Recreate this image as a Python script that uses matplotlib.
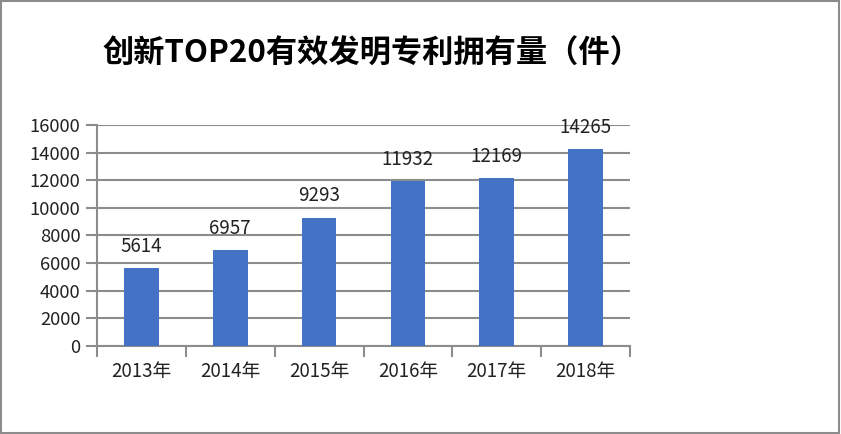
import matplotlib
matplotlib.use("Agg")
import matplotlib.pyplot as plt
from matplotlib.patches import Rectangle
import numpy as np

plt.rcParams['font.family'] = ['Noto Sans CJK SC', 'DejaVu Sans']

categories = ["2013年", "2014年", "2015年", "2016年", "2017年", "2018年"]
values = [5614, 6957, 9293, 11932, 12169, 14265]
yticks = [0, 2000, 4000, 6000, 8000, 10000, 12000, 14000, 16000]
title = "创新TOP20有效发明专利拥有量（件）"

fig = plt.figure(figsize=(8.41, 4.34), dpi=100)
ax = fig.add_axes([97/841, 1-345.7/434, (630-97)/841, (345.7-125)/434])

x = np.arange(len(categories))
bars = ax.bar(x, values, width=0.39, color="#4472C4", zorder=3)
for xi, v in zip(x, values):
    ax.annotate(str(v), (xi, v), xytext=(0, 8), textcoords="offset points",
                ha="center", va="bottom", fontsize=13.5, color="#222222")

ax.set_xlim(-0.5, len(categories) - 0.5)
ax.set_ylim(0, 16000)
ax.set_yticks(yticks)
ax.set_yticklabels([str(t) for t in yticks], fontsize=13.3, color="#222222")
ax.set_xticks(x)
ax.set_xticklabels(categories, fontsize=13.5, color="#222222")
ax.set_xticks(np.arange(-0.5, len(categories)), minor=True)
ax.tick_params(axis="x", which="major", length=0, pad=11)
ax.tick_params(axis="x", which="minor", length=8, width=1.5, color="#8c8c8c")
ax.tick_params(axis="y", length=8, width=1.5, color="#8c8c8c", pad=4)

ax.yaxis.grid(True, color="#8c8c8c", linewidth=1.5, zorder=0)
ax.set_axisbelow(True)
for s in ["top", "right"]:
    ax.spines[s].set_visible(False)
for s in ["left", "bottom"]:
    ax.spines[s].set_color("#8c8c8c")
    ax.spines[s].set_linewidth(1.5)

fig.text(372/841, 1-54/434, title, ha="center", va="center", fontsize=22.5,
         fontweight="bold", color="#000000")

fig.patches.append(Rectangle((0.001, 0.002), 0.997, 0.996, transform=fig.transFigure,
                             fill=False, edgecolor="#8c8c8c", linewidth=1.5))

fig.savefig("out.png", dpi=100)
